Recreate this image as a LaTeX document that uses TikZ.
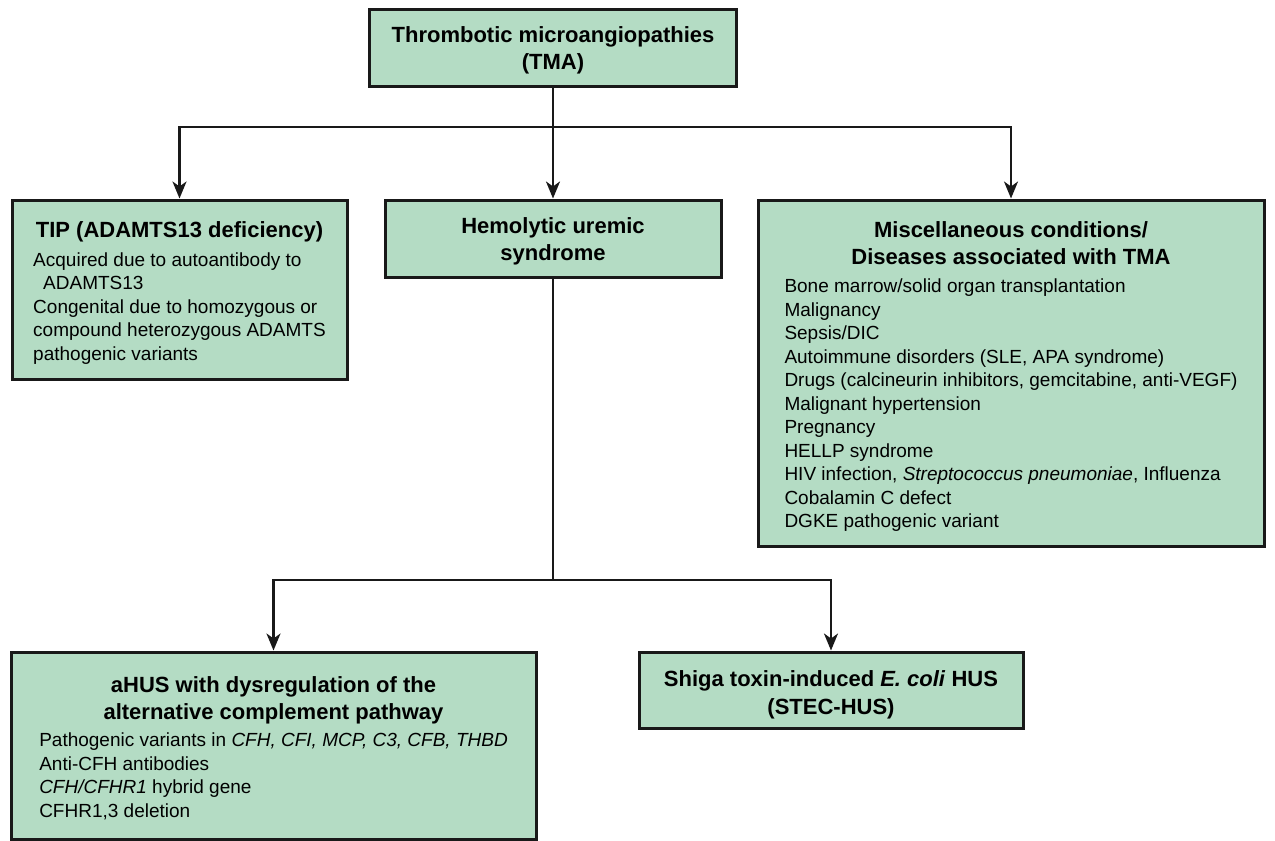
\documentclass[tikz,border=0pt]{standalone}
\usepackage{fontspec}
\setmainfont{Liberation Sans}
\usepackage{tikz}
\usetikzlibrary{arrows.meta}

\definecolor{boxgreen}{RGB}{180,220,196}
\definecolor{edge}{RGB}{25,25,25}
\newcommand{\bodyfont}{\fontsize{9.5}{11.75}\selectfont}
\newcommand{\headfont}{\fontsize{11}{13.75}\selectfont\bfseries}
\newcommand{\headrow}[1]{\multicolumn{1}{@{}c@{}}{\headfont #1}}
\newcommand{\lowered}[2][2pt]{\raisebox{-#1}[\height][\depth]{#2}}

\begin{document}
\begin{tikzpicture}[
  x=0.5pt, y=-0.5pt,
  font=\bodyfont,
  box/.style={draw=edge, line width=1.5pt, fill=boxgreen, inner sep=0pt},
  headbox/.style={box, font=\headfont},
  flow/.style={-{Stealth[length=8.5pt, width=7pt, inset=2.5pt]}, line width=1.2pt, draw=edge},
  link/.style={line width=1.2pt, draw=edge}
]
\useasboundingbox (0,0) rectangle (1275,841);
% --- top ---
\node[headbox, minimum width=183.5pt, minimum height=38.5pt] (tma) at (553,47.5) {\lowered[1.5pt]{\begin{tabular}{@{}c@{}}
  Thrombotic microangiopathies\\(TMA)
\end{tabular}}};
% --- first level ---
\node[box, minimum width=167.5pt, minimum height=89.5pt] (ttp) at (179.5,289.5) {\lowered[2.5pt]{\begin{tabular}{@{}l@{}}
  \headrow{TIP (ADAMTS13 deficiency)}\\[2.5pt]
  Acquired due to autoantibody to\\
  \hspace*{5pt}ADAMTS13\\
  Congenital due to homozygous or\\
  compound heterozygous ADAMTS\\
  pathogenic variants
\end{tabular}}};
\node[headbox, minimum width=168pt, minimum height=38.5pt] (hus) at (553,238.5) {\lowered[1.5pt]{\begin{tabular}{@{}c@{}}
  Hemolytic uremic\\syndrome
\end{tabular}}};
\node[box, minimum width=253pt, minimum height=173pt] (misc) at (1011,373) {\lowered[2.5pt]{\begin{tabular}{@{}l@{}}
  \headrow{Miscellaneous conditions/}\\[1.5pt]
  \headrow{Diseases associated with TMA}\\[2.5pt]
  Bone marrow/solid organ transplantation\\
  Malignancy\\
  Sepsis/DIC\\
  Autoimmune disorders (SLE, APA syndrome)\\
  Drugs (calcineurin inhibitors, gemcitabine, anti-VEGF)\\
  Malignant hypertension\\
  Pregnancy\\
  HELLP syndrome\\
  HIV infection, \textit{Streptococcus pneumoniae}, Influenza\\
  Cobalamin C defect\\
  DGKE pathogenic variant
\end{tabular}}};
% --- second level ---
\node[box, minimum width=262.5pt, minimum height=93.5pt] (ahus) at (273.5,745.5) {\lowered[2.5pt]{\begin{tabular}{@{}l@{}}
  \headrow{aHUS with dysregulation of the}\\[1.5pt]
  \headrow{alternative complement pathway}\\[2pt]
  Pathogenic variants in \textit{CFH, CFI, MCP, C3, CFB, THBD}\\
  Anti-CFH antibodies\\
  \textit{CFH/CFHR1} hybrid gene\\
  CFHR1,3 deletion
\end{tabular}}};
\node[headbox, minimum width=192pt, minimum height=38pt] (stec) at (831,690) {\lowered[2.5pt]{\begin{tabular}{@{}c@{}}
  Shiga toxin-induced \textit{E. coli} HUS\\(STEC-HUS)
\end{tabular}}};
% --- connectors ---
\coordinate (fork1) at (553,127);
\coordinate (fork2) at (553,580);
\draw[flow] (tma) -- (hus);
\draw[flow] (fork1) -| (ttp);
\draw[flow] (fork1) -| (misc);
\draw[link] (hus) -- (fork2);
\draw[flow] (fork2) -| (ahus);
\draw[flow] (fork2) -| (stec);
\end{tikzpicture}
\end{document}
